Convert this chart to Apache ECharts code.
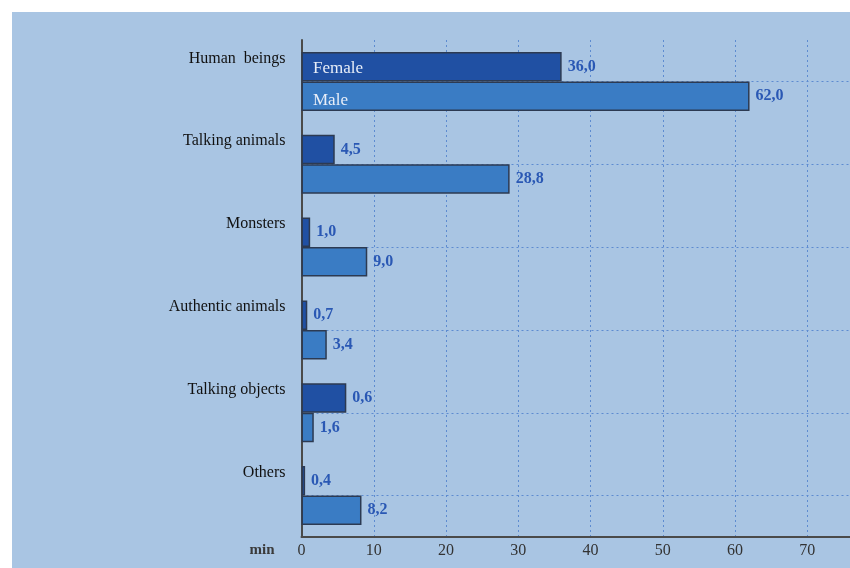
<!DOCTYPE html>
<html>
<head>
<meta charset="utf-8">
<script src="https://cdn.jsdelivr.net/npm/echarts@6/dist/echarts.min.js"></script>
<style>
  html, body { margin: 0; padding: 0; background: #ffffff; }
  #main { position: absolute; left: 12px; top: 12px; width: 838px; height: 556px; background: #a9c5e3; }
</style>
</head>
<body>
<div id="main"></div>
<script>
var categories = ['Human  beings', 'Talking animals', 'Monsters', 'Authentic animals', 'Talking objects', 'Others'];
// bar lengths as drawn in the picture (minutes)
var female = [36.0, 4.6, 1.2, 0.8, 6.2, 0.5];
var male = [62.0, 28.8, 9.1, 3.5, 1.7, 8.3];
// printed value labels
var femaleLabels = ['36,0', '4,5', '1,0', '0,7', '0,6', '0,4'];
var maleLabels = ['62,0', '28,8', '9,0', '3,4', '1,6', '8,2'];
var xTicks = [0, 10, 20, 30, 40, 50, 60, 70];

var chartDom = document.getElementById('main');
var myChart = echarts.init(chartDom);
var option;

var serif = 'Liberation Serif';
var gridColor = '#5d8bd0';

option = {
  animation: false,
  grid: {
    left: 289.5,
    top: 28,
    right: -3,
    bottom: 31
  },
  xAxis: {
    type: 'value',
    min: 0,
    max: 75.9,
    interval: 10,
    name: 'min',
    nameLocation: 'start',
    nameGap: 27,
    nameTextStyle: {
      fontFamily: serif,
      fontSize: 15,
      fontWeight: 'bold',
      color: '#3a3a3a',
      verticalAlign: 'top',
      padding: [6, 0, 0, 0]
    },
    axisLine: { show: true, lineStyle: { color: '#4a4a4a', width: 2 } },
    axisTick: { show: false },
    axisLabel: {
      fontFamily: serif,
      fontSize: 16,
      color: '#333',
      margin: 6,
      showMaxLabel: false,
      formatter: function (v) { return xTicks.indexOf(v) >= 0 ? String(v) : ''; }
    },
    splitLine: {
      show: true,
      lineStyle: { color: gridColor, type: [2, 3], width: 1 }
    }
  },
  yAxis: {
    type: 'category',
    inverse: true,
    data: categories,
    axisLine: { show: true, lineStyle: { color: '#4a4a4a', width: 2 } },
    axisTick: { show: false },
    axisLabel: {
      fontFamily: serif,
      fontSize: 16,
      color: '#111',
      margin: 16,
      verticalAlign: 'bottom',
      padding: [0, 0, 15, 0]
    },
    splitLine: {
      show: true,
      alignWithLabel: true,
      lineStyle: { color: gridColor, type: [2, 3], width: 1 }
    }
  },
  legend: {
    orient: 'vertical',
    left: 290,
    top: 43,
    itemGap: 14,
    icon: 'rect',
    itemWidth: 0,
    itemHeight: 0,
    selectedMode: false,
    data: ['Female', 'Male'],
    textStyle: { fontFamily: serif, fontSize: 17, color: '#e8eef8', lineHeight: 18 }
  },
  series: [
    {
      name: 'Female',
      type: 'bar',
      barWidth: 29.5,
      barGap: '0%',
      data: female,
      itemStyle: { color: '#2050a3', borderColor: '#2c3a52', borderWidth: 1.5 },
      label: {
        show: true,
        position: 'right',
        distance: 6,
        fontFamily: serif,
        fontWeight: 'bold',
        fontSize: 16,
        color: '#2a58b4',
        formatter: function (p) { return femaleLabels[p.dataIndex]; }
      }
    },
    {
      name: 'Male',
      type: 'bar',
      barWidth: 29.5,
      barGap: '0%',
      data: male,
      itemStyle: { color: '#3a7cc4', borderColor: '#2c3a52', borderWidth: 1.5 },
      label: {
        show: true,
        position: 'right',
        distance: 6,
        fontFamily: serif,
        fontWeight: 'bold',
        fontSize: 16,
        color: '#2a58b4',
        formatter: function (p) { return maleLabels[p.dataIndex]; }
      }
    }
  ]
};

option && myChart.setOption(option);
</script>
</body>
</html>
